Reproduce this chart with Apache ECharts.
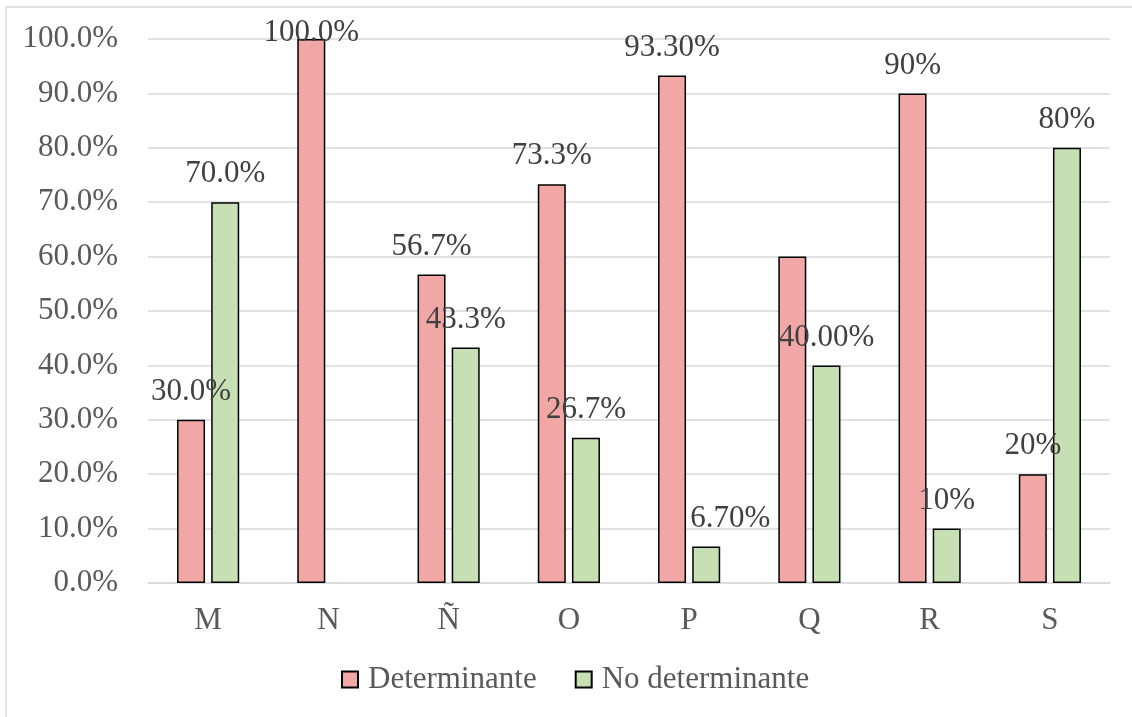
<!DOCTYPE html>
<html>
<head>
<meta charset="utf-8">
<script src="https://cdn.jsdelivr.net/npm/echarts@6/dist/echarts.min.js"></script>
<style>
  html, body { margin: 0; padding: 0; background: #ffffff; }
  #chart { width: 1132px; height: 717px; }
</style>
</head>
<body>
<div id="chart"></div>
<script>
// Categories and values (percent); null = no bar drawn
const categories = ['M', 'N', 'Ñ', 'O', 'P', 'Q', 'R', 'S'];
const determinante = [30.0, 100.0, 56.7, 73.3, 93.3, 60.0, 90.0, 20.0];
const noDeterminante = [70.0, null, 43.3, 26.7, 6.7, 40.0, 10.0, 80.0];
// Data label texts as printed above each bar ('' = no label)
const detLabels = ['30.0%', '100.0%', '56.7%', '73.3%', '93.30%', '', '90%', '20%'];
const noDetLabels = ['70.0%', '', '43.3%', '26.7%', '6.70%', '40.00%', '10%', '80%'];
const yTicks = [0, 10, 20, 30, 40, 50, 60, 70, 80, 90, 100];

const FONT = '"Liberation Serif", "Times New Roman", serif';
const FS = 31;

// per-bar label nudges (index -> [dx, dy]) so labels don't sit on neighbouring bars
const detShift = { 1: [0, 22] };
const noDetShift = { 4: [24, 0] };

function buildData(values, labels, shift) {
  return values.map((v, i) => {
    if (v === null) return '-';
    const item = { value: v };
    if (!labels[i]) {
      item.label = { show: false };
    } else if (shift[i]) {
      item.label = { offset: shift[i] };
    }
    return item;
  });
}

const labelStyle = (labels) => ({
  show: true,
  position: 'top',
  distance: 13,
  fontFamily: FONT,
  fontSize: FS,
  lineHeight: 30,
  color: '#404040',
  formatter: (p) => labels[p.dataIndex]
});

const chart = echarts.init(document.getElementById('chart'));
chart.setOption({
  animation: false,
  backgroundColor: '#ffffff',
  graphic: [{
    type: 'rect',
    shape: { x: 6, y: 7, width: 1140, height: 730 },
    style: { fill: 'none', stroke: '#d9d9d9', lineWidth: 1.5 },
    silent: true,
    z: -1
  }],
  grid: { left: 148, right: 22, top: 39, bottom: 134, containLabel: false },
  legend: {
    bottom: 17,
    left: 336,
    itemWidth: 16,
    itemHeight: 16,
    itemGap: 38,
    icon: 'rect',
    textStyle: { fontFamily: FONT, fontSize: FS, color: '#595959', padding: [0, 0, 0, 5] },
    data: ['Determinante', 'No determinante']
  },
  xAxis: {
    type: 'category',
    data: categories,
    axisLine: { show: true, lineStyle: { color: '#d9d9d9', width: 1.5 } },
    axisTick: { show: false },
    axisLabel: { fontFamily: FONT, fontSize: FS, color: '#595959', margin: 22 }
  },
  yAxis: {
    type: 'value',
    min: yTicks[0],
    max: yTicks[yTicks.length - 1],
    interval: 10,
    axisLine: { show: false },
    axisTick: { show: false },
    splitLine: { lineStyle: { color: '#d9d9d9', width: 1.5 } },
    axisLabel: {
      fontFamily: FONT, fontSize: FS, color: '#595959', margin: 30,
      formatter: (v) => v.toFixed(1) + '%'
    }
  },
  series: [
    {
      name: 'Determinante',
      type: 'bar',
      barWidth: 28,
      barGap: '22%',
      data: buildData(determinante, detLabels, detShift),
      itemStyle: { color: '#f2a7a7', borderColor: '#000000', borderWidth: 1.5 },
      label: labelStyle(detLabels)
    },
    {
      name: 'No determinante',
      type: 'bar',
      barWidth: 28,
      data: buildData(noDeterminante, noDetLabels, noDetShift),
      itemStyle: { color: '#c6e0b4', borderColor: '#000000', borderWidth: 1.5 },
      label: labelStyle(noDetLabels)
    }
  ]
});
</script>
</body>
</html>
